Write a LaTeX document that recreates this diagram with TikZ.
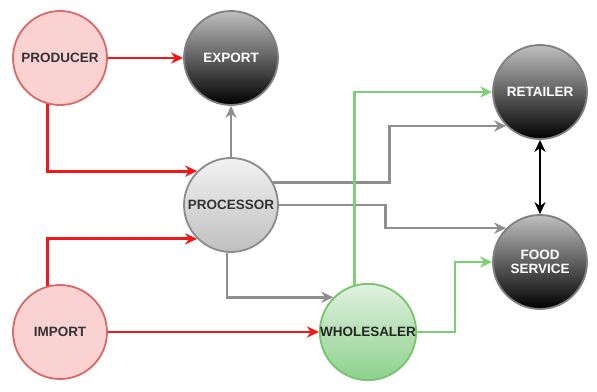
\documentclass[tikz,border=0pt]{standalone}
\usepackage{fontspec}
\setmainfont{Liberation Sans}
\usepackage{tikz}
\usetikzlibrary{arrows.meta,positioning,calc}
\definecolor{redline}{HTML}{F01818}
\definecolor{redfill}{HTML}{FAD2D2}
\definecolor{reddraw}{HTML}{D86A6A}
\definecolor{greenline}{HTML}{7CCF74}
\definecolor{greendraw}{HTML}{78C46C}
\definecolor{grayline}{HTML}{8E8E8E}

\begin{document}
\begin{tikzpicture}[>={Stealth[length=3mm,width=2.8mm]}, font=\bfseries\fontsize{9.6}{10.5}\selectfont, source/.style={circle, draw=reddraw, line width=1.3pt, fill=redfill, minimum size=23.5mm, inner sep=0pt, text=black!80, align=center}, sink/.style={circle, draw=black!50, line width=1.3pt, top color=black!25, bottom color=black, minimum size=23.5mm, inner sep=0pt, text=white, align=center}, mid/.style={circle, draw=black!45, line width=1.3pt, top color=black!5, bottom color=black!25, minimum size=23.5mm, inner sep=0pt, text=black!80, align=center}, trade/.style={circle, draw=greendraw, line width=1.3pt, top color=green!55!black!12!white, bottom color=green!60!black!45!white, minimum size=23.5mm, inner sep=0pt, text=black!85, align=center}, redflow/.style={->, draw=redline, line width=2pt}, grayflow/.style={->, draw=grayline, line width=1.8pt}, greenflow/.style={->, draw=greenline, line width=1.5pt}, both/.style={<->, draw=black, line width=1.8pt}]
\useasboundingbox (0,0) rectangle (14.925,-9.775);
\node[source] (prod) at (1.5,-1.45) {PRODUCER};
\node[sink] (exp) at (5.775,-1.45) {EXPORT};
\node[mid] (proc) at (5.775,-5.125) {PROCESSOR};
\node[source] (imp) at (1.5,-8.3) {IMPORT};
\node[trade] (whole) at (9.2,-8.3) {WHOLESALER};
\node[sink] (ret) at (13.5,-2.3) {RETAILER};
\node[sink] (food) at (13.5,-6.55) {FOOD\\[-1pt]SERVICE};
\draw[redflow] (prod) -- (exp);
\draw[redflow] (prod.255) |- (proc.135);
\draw[redflow] (imp.105) |- (proc.225);
\draw[redflow] (imp) -- (whole);
\draw[grayflow] (proc) -- (exp);
\draw[grayflow] (proc.28) -| ($(proc.28)!.5!(ret.225)$) |- (ret.225);
\draw[grayflow] (proc.east) -| ($(proc.east)!.47!(food.135)$) |- (food.135);
\draw[grayflow] (proc.265) |- (whole.135);
\draw[greenflow] (whole.106) |- (ret.west);
\draw[greenflow] (whole.east) -| ($(whole.east)!.5!(food.west)$) |- (food.west);
\draw[both] (ret) -- (food);
\end{tikzpicture}
\end{document}
